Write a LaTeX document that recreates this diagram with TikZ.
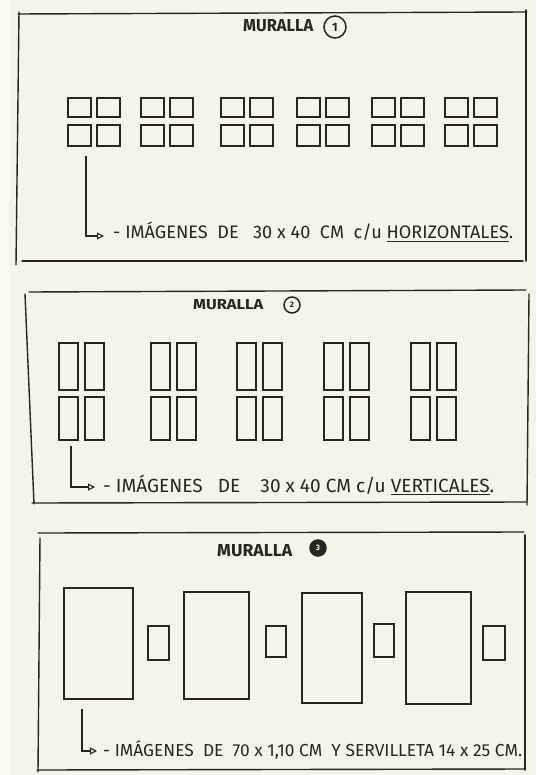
\documentclass[tikz,border=0pt]{standalone}
\usepackage{fontspec}
\setmainfont{Fira Sans}
\usetikzlibrary{arrows.meta}
\definecolor{paper}{RGB}{245,244,232}
\definecolor{ink}{RGB}{40,38,34}
\begin{document}
\begin{tikzpicture}[x=1pt,y=-1pt,
  frame/.style={draw=ink, line width=1.4pt, line cap=round},
  sq/.style={draw=ink, line width=2.4pt, inner sep=0pt, anchor=north west},
  big/.style={draw=ink, line width=1.6pt, inner sep=0pt, anchor=north west},
  conn/.style={draw=ink, line width=1.1pt, -{Triangle[open,length=7pt,width=7pt,line width=1.1pt]}},
  label/.style={text=ink, inner sep=0pt, anchor=base west},
  ttl/.style={text=ink, font=\bfseries, inner sep=0pt, anchor=west},
  num/.style={draw=ink, circle, line width=1.5pt, inner sep=0pt, text=ink, font=\bfseries}]
\useasboundingbox (0,0) rectangle (536,775);
\fill[paper] (0,0) rectangle (536,775);
\fill[white!55!paper] (0,0) rectangle (9,775);

% ---------- Panel 1 ----------
\draw[frame] (18,14) -- (527,12);
\draw[frame] (19,12) -- (16,265);
\draw[frame] (22,261) -- (523,261);
\draw[frame] (526,10) -- (526,261);
\node[ttl] (m1) at (243,26) {\resizebox{70pt}{12pt}{MURALLA}};
\node[num, minimum size=22pt, font=\bfseries\large] (c1) at (335,27) {1};
\foreach \gx [count=\g] in {67,140,220,296,371,444}{
  \node[sq, minimum width=23pt, minimum height=19pt] (h\g a) at (\gx,97) {};
  \node[sq, minimum width=23pt, minimum height=19pt] (h\g b) at (\gx+29,97) {};
  \node[sq, minimum width=23pt, minimum height=21pt] (h\g c) at (\gx,124) {};
  \node[sq, minimum width=23pt, minimum height=21pt] (h\g d) at (\gx+29,124) {};
}
\node[label] (t1) at (113,239) {\resizebox{400pt}{!}{\fontsize{16}{16}\selectfont - IMÁGENES\ \ DE\ \ \ 30 x 40\ \ CM\ \ c/u \underline{HORIZONTALES}.}};
\coordinate (k1) at (86,156);
\coordinate (e1) at (104,236);
\draw[conn] (k1) |- (e1);

% ---------- Panel 2 ----------
\draw[frame] (29,292) -- (526,290);
\draw[frame] (25,294) -- (34,504);
\draw[frame] (32,503) -- (527,502);
\draw[frame] (529,294) -- (527,505);
\node[ttl] (m2) at (193,305) {\resizebox{70pt}{10pt}{MURALLA}};
\node[num, minimum size=16pt, font=\bfseries\footnotesize] (c2) at (292,305) {2};
\foreach \gx [count=\g] in {58,150,236,323,410}{
  \node[sq, minimum width=19pt, minimum height=47pt] (v\g a) at (\gx,342) {};
  \node[sq, minimum width=19pt, minimum height=47pt] (v\g b) at (\gx+26,342) {};
  \node[sq, minimum width=19pt, minimum height=43pt] (v\g c) at (\gx,396) {};
  \node[sq, minimum width=19pt, minimum height=43pt] (v\g d) at (\gx+26,396) {};
}
\node[label] (t2) at (103,492) {\resizebox{391pt}{!}{\fontsize{16}{16}\selectfont - IMÁGENES\ \ \ DE\ \ \ \ 30 x 40 CM\ c/u \underline{VERTICALES}.}};
\coordinate (k2) at (71,446);
\coordinate (e2) at (95,487);
\draw[conn] (k2) |- (e2);

% ---------- Panel 3 ----------
\draw[frame] (38,533) -- (524,532);
\draw[frame] (40,538) -- (38,772);
\draw[frame] (37,770) -- (525,769);
\draw[frame] (525,535) -- (525,770);
\node[ttl] (m3) at (217,551) {\resizebox{75pt}{12pt}{MURALLA}};
\node[num, minimum size=16pt, fill=ink, text=paper, font=\bfseries\footnotesize] (c3) at (318,548) {3};
\node[big, minimum width=69pt, minimum height=111pt] (b1) at (63,587) {};
\node[big, minimum width=65pt, minimum height=107pt] (b2) at (183,591) {};
\node[big, minimum width=60pt, minimum height=110pt] (b3) at (301,592) {};
\node[big, minimum width=65pt, minimum height=112pt] (b4) at (405,591) {};
\node[big, minimum width=21pt, minimum height=34pt] (s1) at (147,625) {};
\node[big, minimum width=20pt, minimum height=31pt] (s2) at (265,625) {};
\node[big, minimum width=20pt, minimum height=33pt] (s3) at (373,623) {};
\node[big, minimum width=22pt, minimum height=34pt] (s4) at (482,625) {};
\node[label] (t3) at (103,756) {\resizebox{419pt}{!}{\fontsize{16}{16}\selectfont - IMÁGENES\ \ DE\ \ 70 x 1,10 CM\ \ Y SERVILLETA 14 x 25 CM.}};
\coordinate (k3) at (82,709);
\coordinate (e3) at (97,751);
\draw[conn] (k3) |- (e3);
\end{tikzpicture}
\end{document}
